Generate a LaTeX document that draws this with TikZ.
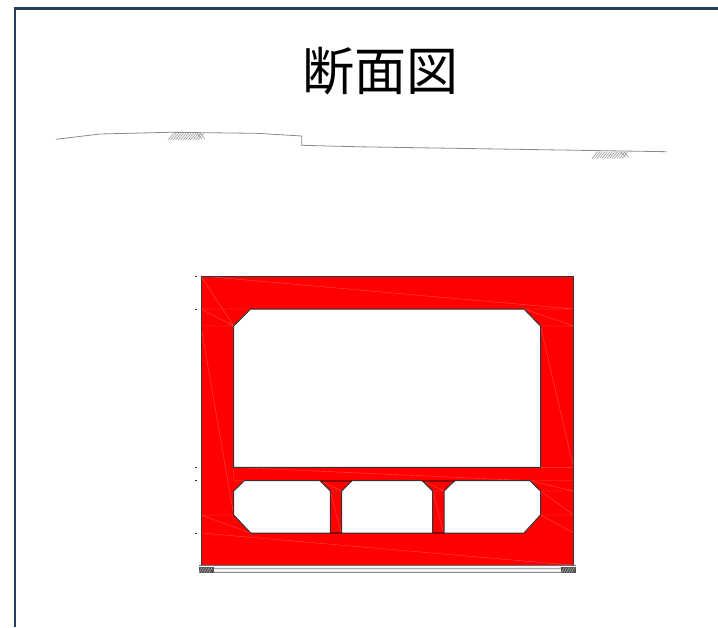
\documentclass[tikz,border=0pt]{standalone}
\usepackage{fontspec}
\newfontfamily\cjkfont{Noto Sans CJK JP}
\definecolor{framecol}{HTML}{24405F}
\definecolor{concrete}{HTML}{FF0000}
\definecolor{seam}{HTML}{FF4C4C}
\definecolor{edge}{HTML}{333338}
\definecolor{ground}{HTML}{8A8A8A}
\tikzset{
  seamline/.style={draw=seam,line width=0.4pt},
  outline/.style={draw=edge,line width=1pt,line join=miter},
  groundline/.style={draw=ground,line width=0.8pt},
  hatchline/.style={draw=ground,line width=0.5pt},
  tickmark/.style={draw=edge,line width=1pt}
}
\begin{document}
\begin{tikzpicture}[x=1pt,y=-1pt]
\useasboundingbox (0,0) rectangle (718,627);
% frame
\draw[framecol,line width=2.8pt] (15,627) -- (15,8.7) -- (718,8.7);
% title
\node[font=\cjkfont\fontsize{52}{60}\selectfont,text=black,inner sep=0pt] (title) at (380.5,71) {断面図};
% ground
\draw[groundline] (56,139.3) -- (100,134) -- (170,132.3) -- (256.7,133.3) -- (301.7,136) -- (301.7,145.3) -- (360,146.8) -- (666.7,151.7);
% ground hatches
\foreach \x in {168,170.5,...,200}{\draw[hatchline] (\x,140) -- (\x+5.5,133.3);}
\foreach \x in {197,200}{\draw[hatchline] (\x,133.5) -- (\x+5,139);}
\foreach \x in {592,594.5,...,624}{\draw[hatchline] (\x,158.5) -- (\x+5.5,151.7);}
\foreach \x in {621,624}{\draw[hatchline] (\x,152) -- (\x+5,157.5);}
% section body
\path[fill=concrete,even odd rule]
  (201,276) -- (573.8,276) -- (573.8,565.3) -- (201,565.3) -- cycle
  (250.5,309) -- (524,309) -- (540.5,326) -- (540.5,467.3) -- (233.7,467.3) -- (233.7,326) -- cycle
  (244.3,480.7) -- (320,480.7) -- (330.3,491) -- (330.3,533) -- (250.7,533) -- (233.7,515) -- (233.7,491) -- cycle
  (352,480.7) -- (422.3,480.7) -- (432.7,491) -- (432.7,533) -- (341.7,533) -- (341.7,491) -- cycle
  (454.7,480.7) -- (530,480.7) -- (540.5,491) -- (540.5,515) -- (524,533) -- (444,533) -- (444,491) -- cycle;
% seams
\path[seamline]
  (201,276) -- (573.8,309)
  (201,276) -- (233.7,326)
  (201,309) -- (233.7,326)
  (201,309) -- (250.5,309)
  (201,326) -- (233.7,326)
  (201,326) -- (233.7,515)
  (524,309) -- (573.8,326)
  (524,309) -- (573.8,309)
  (540.5,326) -- (573.8,326)
  (540.5,326) -- (573.5,467.3)
  (540.5,467.3) -- (573.8,467.3)
  (233.7,467.3) -- (530,480.7)
  (233.7,467.3) -- (233.7,480.7) -- (244.3,480.7)
  (530,480.7) -- (573.8,480.7)
  (530,480.7) -- (573.8,491)
  (540.5,491) -- (573.8,491)
  (540.5,491) -- (573.8,515)
  (540.5,515) -- (573.8,515)
  (540.5,515) -- (573.8,533)
  (201,515) -- (233.7,515)
  (201,515) -- (250.7,533)
  (201,533) -- (573.8,565.3)
  (320,480.7) -- (341.7,491)
  (330.3,491) -- (341.7,491)
  (330.3,491) -- (341,533)
  (422.3,480.7) -- (444,491)
  (432.7,491) -- (444,491)
  (432.7,491) -- (443.5,533);
% outlines
\draw[outline] (201,565.3) -- (201,276) -- (573.8,276) -- (573.8,565.3);
\draw[outline] (250.5,309) -- (524,309) -- (540.5,326) -- (540.5,467.3) -- (233.7,467.3) -- (233.7,326) -- cycle;
\draw[outline] (244.3,480.7) -- (320,480.7) -- (330.3,491) -- (330.3,533) -- (250.7,533) -- (233.7,515) -- (233.7,491) -- cycle;
\draw[outline] (352,480.7) -- (422.3,480.7) -- (432.7,491) -- (432.7,533) -- (341.7,533) -- (341.7,491) -- cycle;
\draw[outline] (454.7,480.7) -- (530,480.7) -- (540.5,491) -- (540.5,515) -- (524,533) -- (444,533) -- (444,491) -- cycle;
% web ends (darker closing lines)
\draw[concrete!55!black,line width=1.4pt] (320,480.9) -- (352,480.9);
\draw[concrete!55!black,line width=1.4pt] (422.3,480.9) -- (454.7,480.9);
\draw[concrete!55!black,line width=1.4pt] (330.3,533) -- (341.7,533);
\draw[concrete!55!black,line width=1.4pt] (432.7,533) -- (444,533);
% base
\fill[black!6] (199,566.5) rectangle (576,572.3);
\draw[edge!70,line width=1pt] (199,565.8) -- (576,565.8);
\draw[edge!60,line width=1pt] (199,572.3) -- (576,572.3);
\draw[black!35,line width=0.6pt] (199,568) -- (576,568);
\fill[edge!85] (198.5,567) rectangle (213.5,572.8);
\fill[edge!85] (560.8,567) rectangle (575.5,572.8);
\foreach \x in {199,201.5,...,211}{\draw[white!80!black,line width=0.35pt] (\x,572.5) -- (\x+3,567.5);}
\foreach \x in {561.5,564,...,573}{\draw[white!80!black,line width=0.35pt] (\x,572.5) -- (\x+3,567.5);}
% level ticks
\foreach \y in {276,309,467.3,480.7,533}{\draw[tickmark] (195,\y) -- (197,\y);}
\end{tikzpicture}
\end{document}
